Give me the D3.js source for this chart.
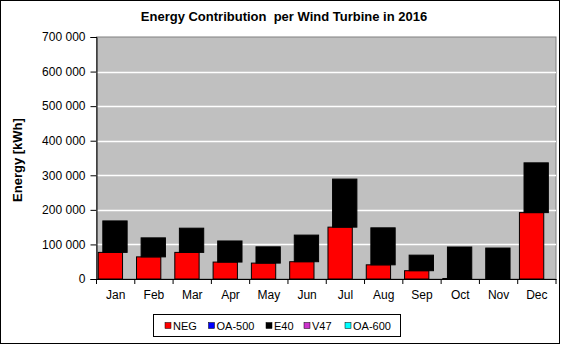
<!DOCTYPE html>
<html>
<head>
<meta charset="utf-8">
<script src="https://cdn.jsdelivr.net/npm/d3@7"></script>
<style>
  body { margin: 0; background: #fff; }
  text { font-family: "Liberation Sans", Arial, sans-serif; fill: #000; }
</style>
</head>
<body>
<script>
// data (kWh)
var months = ["Jan", "Feb", "Mar", "Apr", "May", "Jun", "Jul", "Aug", "Sep", "Oct", "Nov", "Dec"];
var neg   = [77000, 64000, 77000, 49000, 46000, 50000, 150000, 41000, 24000, 1500, 0, 192000];
var oa500 = [0, 0, 0, 0, 0, 0, 0, 0, 0, 0, 0, 0];
var e40   = [91000, 55000, 70000, 61000, 47000, 77000, 139000, 107000, 45000, 91000, 89500, 144000];
var v47   = [0, 0, 0, 0, 0, 0, 0, 0, 0, 0, 0, 0];
var oa600 = [0, 0, 0, 0, 0, 0, 0, 0, 0, 0, 0, 0];
var seriesNames = ["NEG", "OA-500", "E40", "V47", "OA-600"];
var seriesColors = ["#ff0000", "#0000ff", "#000000", "#cc33cc", "#00ffff"];
var yTicks = [0, 100000, 200000, 300000, 400000, 500000, 600000, 700000];

var W = 562, H = 345;
var pLeft = 96.5, pRight = 556, pTop = 37, pBottom = 279;

var svg = d3.select("body").append("svg")
    .attr("width", W)
    .attr("height", H);

// outer frame
svg.append("rect")
    .attr("x", 0.5).attr("y", 0.5)
    .attr("width", 559).attr("height", 343)
    .attr("fill", "#fff").attr("stroke", "#000");

var x = d3.scaleBand().domain(months).range([pLeft, pRight]).paddingInner(0).paddingOuter(0);
var y = d3.scaleLinear().domain([0, 700000]).range([pBottom, pTop]);

// plot area
svg.append("rect")
    .attr("x", pLeft).attr("y", pTop)
    .attr("width", pRight - pLeft).attr("height", pBottom - pTop)
    .attr("fill", "#c0c0c0").attr("stroke", "#808080");

// grid lines
svg.selectAll("line.grid")
    .data(yTicks.slice(1, -1))
    .enter().append("line")
    .attr("class", "grid")
    .attr("x1", pLeft).attr("x2", pRight)
    .attr("y1", function(d) { return Math.round(y(d)) + 0.5; })
    .attr("y2", function(d) { return Math.round(y(d)) + 0.5; })
    .attr("stroke", "#fff").attr("stroke-width", 1.5);

// bars, stacked
var rows = months.map(function(m, i) {
    return {month: m, "NEG": neg[i], "OA-500": oa500[i], "E40": e40[i], "V47": v47[i], "OA-600": oa600[i]};
});
var stacked = d3.stack().keys(seriesNames)(rows);
var bw = x.bandwidth();

stacked.forEach(function(layer, k) {
    var off = k == 0 ? bw * 0.045 : bw * 0.165;
    svg.append("g").selectAll("rect")
        .data(layer.filter(function(d) { return d[1] - d[0] > 0; }))
        .enter().append("rect")
        .attr("x", function(d) { return x(d.data.month) + off; })
        .attr("y", function(d) { return y(d[1]); })
        .attr("width", bw * 0.635)
        .attr("height", function(d) { return y(d[0]) - y(d[1]); })
        .attr("fill", seriesColors[k])
        .attr("stroke", "#000").attr("stroke-width", 1);
});

// y axis
var yAxis = svg.append("g")
    .attr("transform", "translate(" + pLeft + ",0)")
    .call(d3.axisLeft(y).tickValues(yTicks).tickSize(6).tickPadding(5)
        .tickFormat(function(d) { return d3.format(",")(d).replace(/,/g, " "); }));
yAxis.select(".domain").attr("stroke", "#000");
yAxis.selectAll("text").style("font-size", "12px").attr("fill", "#000");

// x axis
var xAxis = svg.append("g")
    .attr("transform", "translate(0," + pBottom + ")")
    .call(d3.axisBottom(x).tickSize(0).tickPadding(11));
xAxis.select(".domain").attr("stroke", "#000");
xAxis.selectAll("text").style("font-size", "12px").attr("fill", "#000");
xAxis.selectAll("line.sep")
    .data(months.concat(["end"]))
    .enter().append("line")
    .attr("class", "sep")
    .attr("x1", function(d, i) { return pLeft + i * bw; })
    .attr("x2", function(d, i) { return pLeft + i * bw; })
    .attr("y1", 0).attr("y2", 5)
    .attr("stroke", "#000");

// title
svg.append("text")
    .attr("x", 284).attr("y", 21)
    .attr("text-anchor", "middle")
    .style("font-size", "13px").style("font-weight", "bold")
    .style("white-space", "pre")
    .text("Energy Contribution  per Wind Turbine in 2016");

// y label
svg.append("text")
    .attr("transform", "translate(22,160) rotate(-90)")
    .attr("text-anchor", "middle")
    .style("font-size", "13px").style("font-weight", "bold")
    .text("Energy [kWh]");

// legend
var legend = svg.append("g");
legend.append("rect")
    .attr("x", 153.5).attr("y", 314.5)
    .attr("width", 247).attr("height", 22)
    .attr("fill", "#fff").attr("stroke", "#000");
var legX = [165, 208.5, 266, 304, 345];
var item = legend.selectAll("g.item")
    .data(seriesNames)
    .enter().append("g")
    .attr("class", "item")
    .attr("transform", function(d, i) { return "translate(" + legX[i] + ",0)"; });
item.append("rect")
    .attr("x", 0).attr("y", 322.5)
    .attr("width", 6).attr("height", 6)
    .attr("fill", function(d, i) { return seriesColors[i]; })
    .attr("stroke", "#000").attr("stroke-width", 0.5);
item.append("text")
    .attr("x", 8).attr("y", 330)
    .style("font-size", "11px")
    .text(function(d) { return d; });
</script>
</body>
</html>
